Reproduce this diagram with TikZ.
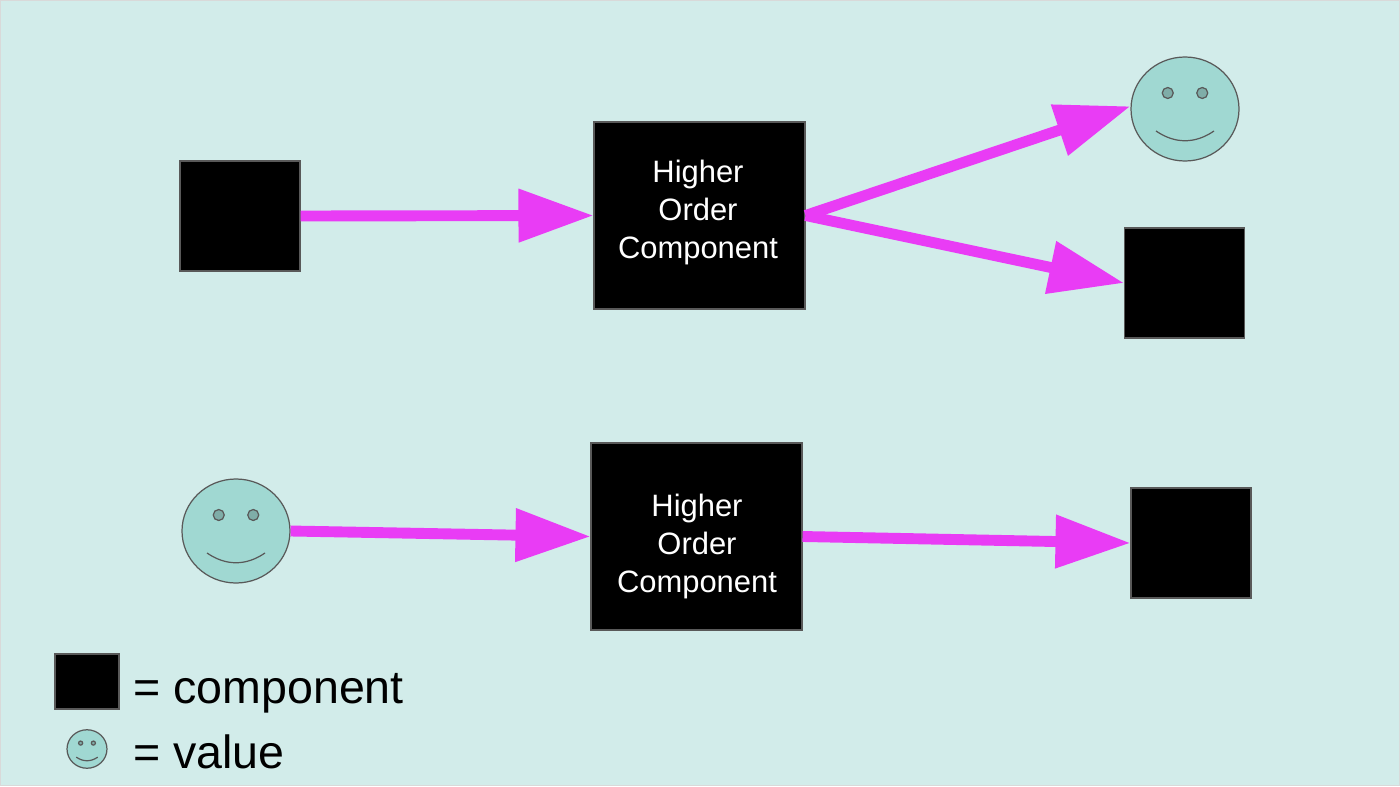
\documentclass[tikz,border=0pt]{standalone}
\usepackage{fontspec}
\setmainfont{Liberation Sans}
\usetikzlibrary{arrows.meta}
\definecolor{fond}{HTML}{D2ECEA}
\definecolor{bord}{HTML}{D9D9D9}
\definecolor{trait}{HTML}{595959}
\definecolor{visage}{HTML}{A0D8D2}
\definecolor{oeil}{HTML}{7FADA8}
\definecolor{fleche}{HTML}{E93CF5}
\begin{document}
\begin{tikzpicture}
\tikzset{carre/.style={draw=trait, fill=black, line width=0.6pt, inner sep=0pt, minimum width=2.4cm, minimum height=2.2cm}}
\tikzset{hoc/.style={carre, minimum width=4.22cm, minimum height=3.74cm}}
\tikzset{hoctexte/.style={text=white, align=center, inner sep=0pt, font=\fontsize{17.6}{21.6}\selectfont}}
\tikzset{legende/.style={anchor=base west, inner sep=0pt, font=\fontsize{26.5}{30}\selectfont}}
\tikzset{tete/.style={draw=trait, fill=visage, circle, line width=0.7pt, inner sep=0pt, minimum size=2.16cm}}
\tikzset{fl/.style={draw=fleche, line width=6.2pt, -{Triangle[length=1.5cm, width=1.02cm, fill=fleche]}}}
\tikzset{smiley/.pic={
  \node[tete, transform shape, yscale=0.963] (-face) at (0,0) {};
  \foreach \ex in {-0.345, 0.345}
    \draw[draw=trait, fill=oeil, line width=0.7pt] (\ex,0.32) circle (0.11);
  \draw[draw=trait, line width=0.7pt] (-0.58,-0.44) .. controls (-0.2,-0.7) and (0.2,-0.7) .. (0.58,-0.44);
}}
\useasboundingbox (0,0) rectangle (28,15.72);
\draw[draw=bord, fill=fond, line width=1pt] (0.01,0.01) rectangle (27.99,15.71);
\node[carre] (C1) at (4.8,11.4) {};
\node[hoc] (H1) at (13.99,11.41) {};
\node[hoctexte] (L1) at (13.96,11.47) {Higher\\Order\\Component};
\pic (S1) at (23.7,13.54) {smiley};
\node[carre] (C2) at (23.69,10.06) {};
\pic (S2) at (4.72,5.1) {smiley};
\node[hoc] (H2) at (13.93,4.99) {};
\node[hoctexte] (L2) at (13.94,4.79) {Higher\\Order\\Component};
\node[carre] (C3) at (23.82,4.86) {};
\node[carre, minimum width=1.28cm, minimum height=1.1cm] (C4) at (1.74,2.09) {};
\pic[scale=0.37] (S3) at (1.74,0.74) {smiley};
\node[legende] (T1) at (2.66,1.66) {= component};
\node[legende] (T2) at (2.66,0.36) {= value};
\draw[fl] (C1.east) -- (H1.west);
\draw[fl] (H1.east) -- (S1-face.177);
\draw[fl] (H1.east) -- (C2.west);
\draw[fl] (S2-face.east) -- (H2.west);
\draw[fl] (H2.east) -- (C3.west);
\end{tikzpicture}
\end{document}
